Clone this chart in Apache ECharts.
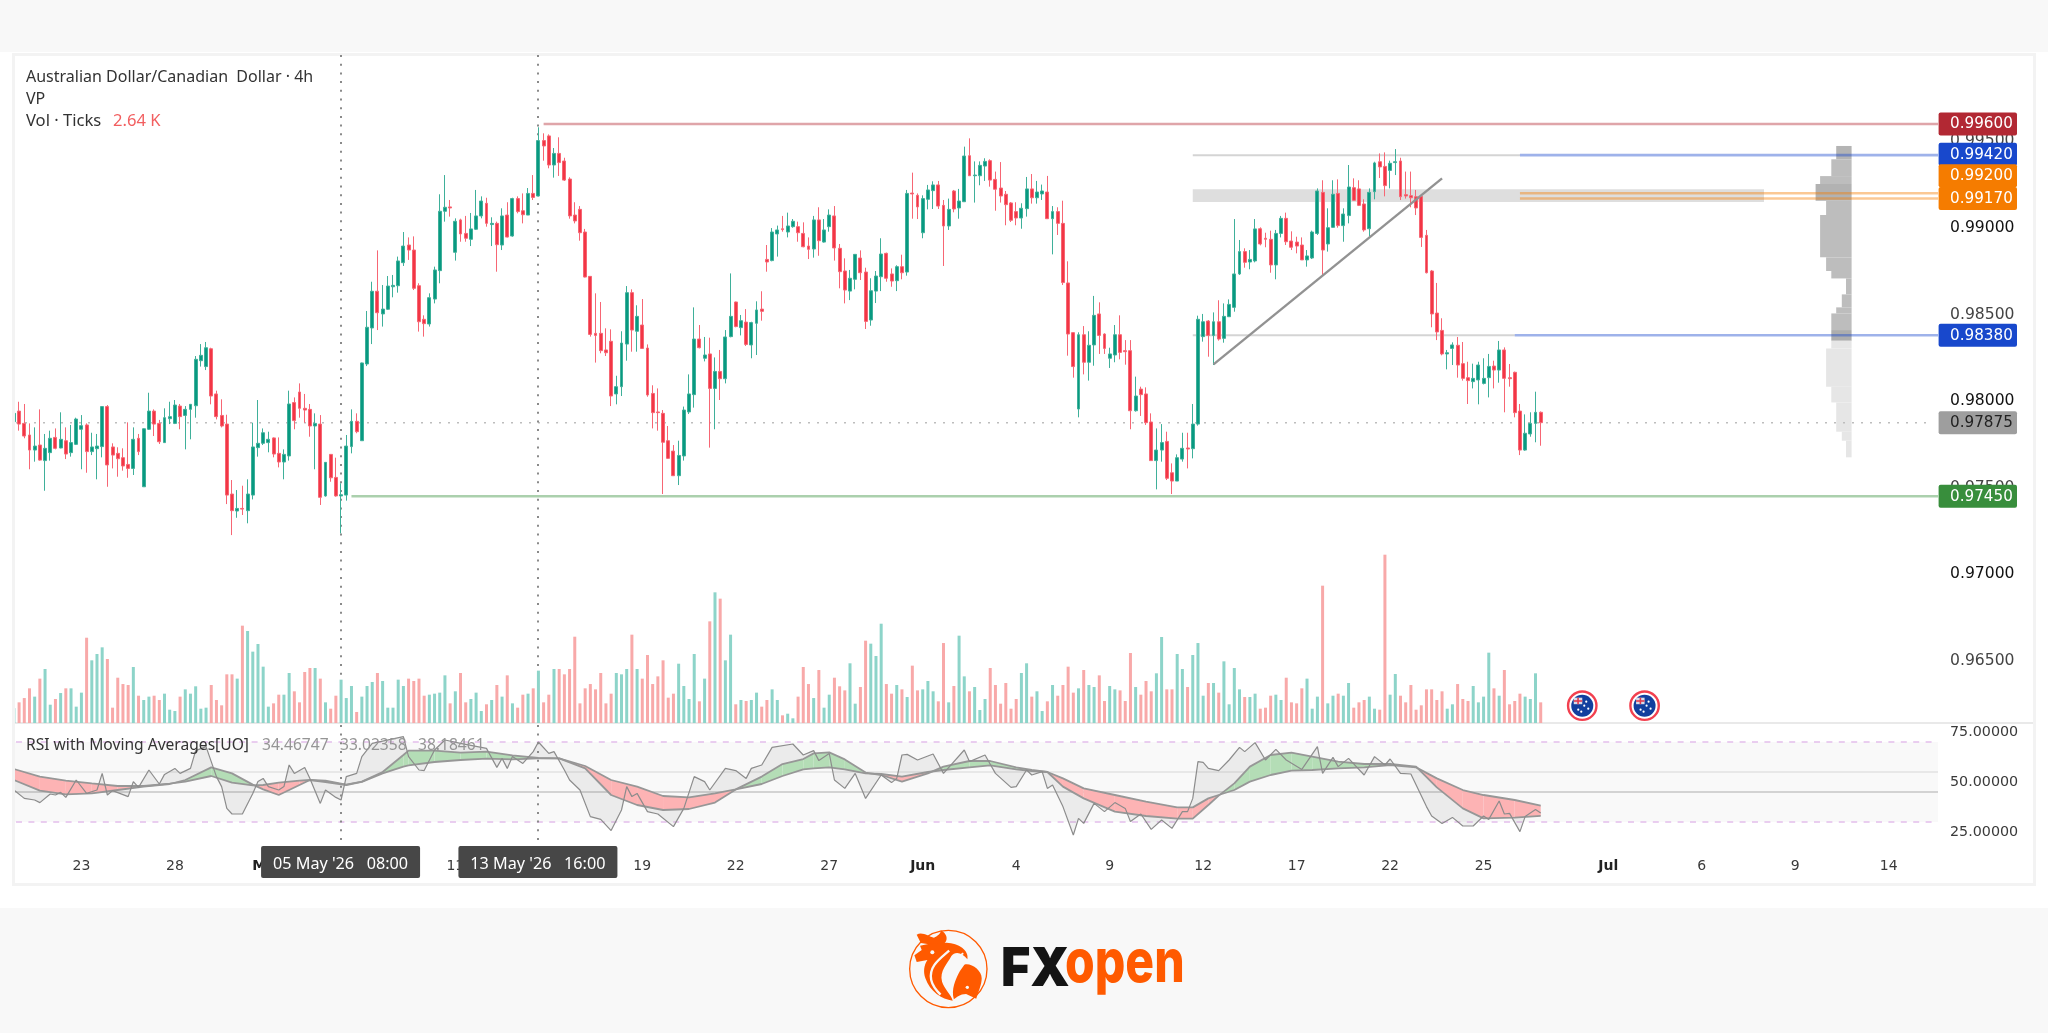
<!DOCTYPE html>
<html>
<head>
<meta charset="utf-8">
<title>AUD/CAD 4h</title>
<script src="https://cdn.jsdelivr.net/npm/echarts@6/dist/echarts.min.js"></script>
<style>
  html, body { margin: 0; padding: 0; background: #fff; width: 2048px; height: 1033px; overflow: hidden; }
  .band { position: absolute; left: 0; width: 2048px; background: #f8f8f8; }
  #panel { position: absolute; left: 12px; top: 53px; width: 2024px; height: 833px; box-sizing: border-box; border: 3px solid #f3f3f3; background: #fff; }
  #divider { position: absolute; left: 15px; top: 722px; width: 2018px; height: 2px; background: #e9e9e9; }
  #chart { position: absolute; left: 0; top: 0; width: 2048px; height: 1033px; }
  #edge { position: absolute; left: 0; top: 53px; width: 15px; height: 833px; background: #fff; box-sizing: border-box; border-right: 3px solid #f3f3f3; pointer-events: none; }
</style>
</head>
<body>
<div class="band" style="top:0;height:52px"></div>
<div class="band" style="top:908px;height:125px"></div>
<div id="panel"></div>
<div id="divider"></div>
<div id="chart"></div>
<div id="edge"></div>
<script>
// Session calendar: one leading 20:00 bar, then six 4h bars per weekday.
const tradingDays = ['21 Apr','22 Apr','23 Apr','24 Apr','27 Apr','28 Apr','29 Apr','30 Apr','1 May','4 May','5 May','6 May','7 May','8 May','11 May','12 May','13 May','14 May','15 May','18 May','19 May','20 May','21 May','22 May','25 May','26 May','27 May','28 May','29 May','1 Jun','2 Jun','3 Jun','4 Jun','5 Jun','8 Jun','9 Jun','10 Jun','11 Jun','12 Jun','15 Jun','16 Jun','17 Jun','18 Jun','19 Jun','22 Jun','23 Jun','24 Jun','25 Jun','26 Jun','29 Jun','30 Jun','1 Jul','2 Jul','3 Jul','6 Jul','7 Jul','8 Jul','9 Jul','10 Jul','13 Jul','14 Jul','15 Jul'];
const barHours = ['00:00','04:00','08:00','12:00','16:00','20:00'];
const tickDays = ['23 Apr','28 Apr','1 May','6 May','11 May','14 May','19 May','22 May','27 May','1 Jun','4 Jun','9 Jun','12 Jun','17 Jun','22 Jun','25 Jun','1 Jul','6 Jul','9 Jul','14 Jul'];
const tickLabels = ['23','28','May','6','11','14','19','22','27','Jun','4','9','12','17','22','25','Jul','6','9','14'];
const monthLabels = ['May','Jun','Jul'];

// Quotes in units of 0.00001.
const opens = [97881,97942,97871,97804,97717,97746,97656,97702,97790,97729,
97771,97702,97750,97837,97862,97708,97725,97737,97968,97735,
97698,97673,97634,97611,97785,97505,97837,97942,97871,97760,
97898,97871,97971,97917,97952,97973,98233,98199,98302,98041,
97917,97867,97463,97365,97380,97367,97457,97731,97756,97760,
97787,97698,97648,97683,97991,98052,97958,97952,97856,97867,
97452,97692,97559,97452,97457,97737,97883,97771,98214,98422,
98634,98503,98530,98660,98666,98799,98901,98872,98666,98472,
98445,98589,98753,99096,99121,98859,99046,98968,98934,98992,
99069,99142,99019,99026,98901,99074,98953,99169,99099,99074,
99199,99184,99504,99531,99363,99430,99386,99282,99074,99107,
98976,98720,98391,98391,98295,98345,98041,98083,98329,98626,
98403,98439,98306,98044,97937,97929,97771,97711,97569,97683,
97937,98037,98358,98247,98272,98073,98171,98129,98372,98572,
98424,98456,98324,98449,98531,98818,98811,98965,98995,98976,
99007,99007,98968,98895,98878,99046,98918,99007,99069,98882,
98751,98635,98703,98826,98745,98468,98635,98718,98853,98734,
98695,98776,98745,99201,99188,98972,99165,99215,99248,99130,
99011,99213,99115,99151,99417,99301,99301,99357,99388,99280,
99230,99194,99144,99094,99057,99111,99225,99174,99196,99207,
99053,99094,99026,98682,98395,97954,98383,98224,98324,98503,
98387,98247,98266,98383,98291,98291,97944,98069,98041,97879,
97656,97717,97767,97586,97538,97665,97729,97725,97867,98372,
98462,98379,98458,98362,98487,98541,98734,98863,98803,98809,
98995,98940,98934,98786,98968,99055,98924,98918,98901,98815,
98826,98968,99205,98907,99003,99199,99013,99071,99232,99225,
99138,98995,99209,99382,99355,99332,99377,99386,99192,99186,
99180,99182,98957,98751,98508,98408,98272,98304,98322,98216,
98135,98112,98122,98102,98135,98202,98179,98295,98135,98166,
97942,97717,97810,97871,97935];
const highs = [97942,97996,97983,97871,97848,97952,97810,97829,97842,97935,
97848,97862,97904,97919,97871,97817,97810,97971,97977,97756,
97733,97727,97877,97848,97810,97842,98048,97952,97891,97958,
97996,98006,97983,97971,97983,98260,98329,98341,98308,98060,
98010,97921,97544,97486,97511,97548,97875,98006,97842,97823,
97790,97790,97721,98060,98021,98102,98041,97983,97929,97919,
97648,97694,97673,97525,97804,97952,97929,98222,98520,98689,
98870,98670,98722,98728,98834,98976,98945,98951,98680,98495,
98622,98776,99194,99305,99161,99055,99053,99069,99086,99219,
99182,99174,99061,99036,99113,99148,99174,99182,99199,99230,
99305,99581,99546,99540,99461,99523,99405,99292,99148,99126,
98994,98722,98622,98572,98420,98414,98146,98403,98664,98645,
98553,98589,98327,98091,98073,97948,97856,97746,97771,97968,
98154,98541,98439,98370,98366,98252,98295,98410,98737,98574,
98497,98531,98458,98576,98634,98901,98999,99013,99069,99088,
99051,99036,99032,98945,99069,99119,99051,99107,99126,98907,
98824,98757,98849,98870,98770,98709,98751,98940,98857,98766,
98784,98845,99219,99319,99199,99188,99248,99269,99271,99161,
99169,99219,99225,99469,99517,99384,99384,99402,99396,99325,
99380,99213,99149,99148,99142,99294,99311,99271,99250,99300,
99126,99119,99157,98807,98397,98397,98433,98403,98607,98570,
98391,98308,98439,98495,98352,98352,98141,98083,98079,97929,
97842,97867,97823,97640,97692,97817,97817,97983,98493,98503,
98468,98512,98582,98564,98587,99051,98930,98882,98872,99051,
99003,98972,98984,98988,99069,99088,98980,98949,98945,98872,
98984,99228,99275,99113,99275,99280,99113,99363,99286,99275,
99165,99228,99382,99430,99436,99388,99455,99405,99325,99325,
99219,99184,98988,98757,98682,98478,98295,98339,98370,98341,
98227,98216,98227,98247,98272,98233,98347,98310,98214,98170,
97983,97923,97935,98054,97940];
const lows = [97867,97829,97785,97606,97650,97656,97482,97656,97721,97727,
97665,97679,97746,97606,97586,97688,97548,97675,97505,97611,
97563,97598,97557,97573,97688,97505,97833,97798,97752,97758,
97867,97867,97837,97721,97779,97904,98199,98179,97981,97894,
97848,97405,97226,97326,97342,97294,97432,97679,97746,97704,
97675,97617,97548,97656,97837,97904,97875,97794,97606,97400,
97448,97534,97448,97236,97425,97698,97814,97771,98202,98329,
98410,98430,98526,98599,98626,98780,98815,98641,98401,98372,
98430,98564,98680,99036,99065,98811,98920,98920,98895,98988,
99055,99007,98895,98747,98872,98945,98949,99084,99026,99074,
99161,99182,99388,99344,99290,99300,99271,99053,99026,98926,
98714,98372,98222,98276,98260,97971,97981,98029,98233,98285,
98285,98304,98025,97842,97829,97463,97667,97567,97515,97656,
97925,97962,98304,98229,97731,97837,98006,98102,98368,98426,
98379,98318,98247,98266,98464,98747,98807,98834,98978,98945,
99001,98920,98888,98820,98828,98839,98915,98978,98811,98651,
98564,98583,98645,98699,98416,98435,98566,98635,98689,98660,
98635,98703,98724,99053,99051,98940,99107,99109,99109,98780,
98988,99090,99053,99151,99301,99146,99246,99271,99238,99099,
99146,99015,99034,99015,98995,99065,99140,99140,99161,99051,
98847,98959,98670,98262,98135,97906,98154,98118,98204,98272,
98272,98191,98224,98241,98210,97837,97939,97914,97862,97656,
97490,97650,97544,97463,97538,97650,97611,97669,97858,98343,
98256,98208,98349,98337,98487,98516,98728,98770,98761,98801,
98899,98888,98741,98703,98945,98901,98872,98853,98815,98776,
98820,98959,98728,98863,99001,99001,98920,99026,99157,99126,
98978,98949,99165,99288,99182,99228,99305,99161,99169,99119,
99074,98890,98737,98426,98352,98264,98183,98208,98135,98118,
97983,98073,97981,98096,98021,98073,98106,97935,98083,97906,
97688,97713,97794,97762,97742];
const closes = [97929,97867,97798,97717,97740,97659,97727,97785,97727,97779,
97694,97760,97896,97858,97708,97735,97740,97968,97631,97688,
97667,97625,97611,97779,97708,97840,97942,97867,97765,97904,
97910,97977,97910,97952,97981,98241,98264,98308,98029,97910,
97856,97457,97367,97380,97376,97463,97735,97756,97817,97779,
97694,97648,97692,97983,97887,97958,97948,97856,97871,97444,
97646,97557,97452,97459,97740,97883,97823,98220,98426,98634,
98510,98531,98664,98668,98809,98895,98872,98651,98458,98447,
98597,98757,99096,99119,99115,99038,98965,98940,98994,99069,
99155,99026,99026,98903,99069,98947,99169,99094,99076,99199,
99176,99504,99473,99363,99430,99377,99276,99069,99040,98972,
98716,98385,98379,98291,98279,98029,98083,98335,98626,98410,
98489,98304,98035,97933,97933,97762,97669,97569,97686,97948,
98041,98358,98308,98266,98073,98171,98129,98370,98489,98430,
98464,98327,98453,98526,98518,98803,98976,98988,98990,99011,
99038,98972,98891,98876,99046,98926,98988,99074,98884,98747,
98641,98709,98847,98741,98460,98637,98722,98849,98709,98693,
98776,98741,99199,99196,99121,99169,99219,99248,99126,99011,
99107,99109,99155,99415,99301,99305,99361,99384,99276,99223,
99184,99134,99044,99057,99113,99225,99174,99207,99213,99053,
99094,99026,98684,98387,98199,98383,98224,98322,98495,98379,
98304,98272,98383,98281,98285,97944,98029,98037,97875,97656,
97717,97760,97554,97538,97673,97727,97723,97867,98472,98458,
98379,98458,98358,98489,98558,98734,98863,98801,98818,98994,
98907,98934,98786,98968,99055,98920,98888,98895,98815,98838,
98976,99213,98872,99001,99194,99013,99080,99236,99159,99130,
98988,99205,99375,99352,99244,99373,99382,99180,99184,99174,
99115,98945,98741,98503,98399,98272,98279,98324,98208,98131,
98118,98131,98208,98131,98200,98179,98295,98131,98129,97933,
97717,97814,97871,97935,97875];

// Tick volume per bar, in thousands.
const volumesK = [1.90,2.64,3.19,4.43,3.37,5.67,6.90,2.34,3.07,3.83,
4.43,4.43,2.09,3.88,10.90,8.01,8.82,9.67,8.18,1.96,
5.79,4.98,4.86,7.16,3.49,2.94,3.37,3.49,2.94,3.75,
1.70,1.53,3.37,4.30,3.75,4.69,1.83,1.96,4.86,2.94,
2.26,6.22,6.22,5.67,12.44,11.76,9.12,10.10,7.20,2.09,
2.51,3.62,3.62,6.39,4.05,2.64,6.52,7.03,7.03,5.67,
2.64,1.83,3.49,5.54,3.19,4.73,1.41,3.37,4.73,5.24,
6.39,5.37,1.96,1.96,5.54,4.73,5.67,5.37,5.67,3.49,
3.62,3.75,3.88,6.09,2.51,4.05,6.39,2.64,3.07,3.88,
1.53,2.39,2.94,4.86,3.37,6.09,2.51,1.96,3.62,3.75,
4.43,6.69,2.64,3.62,6.90,6.90,6.22,6.90,11.03,2.51,
4.43,4.98,4.30,6.39,2.51,3.75,6.39,6.22,6.90,11.29,
6.90,5.67,8.69,4.98,5.96,8.01,3.24,3.75,7.58,4.73,
3.07,8.82,2.77,5.67,12.99,16.70,15.89,8.01,11.29,2.39,
2.94,2.81,2.94,3.88,2.09,2.94,4.30,2.94,0.98,1.19,
0.60,3.37,7.16,4.98,3.19,6.77,1.96,3.62,5.79,4.69,
4.17,7.63,2.47,4.60,10.52,10.14,8.56,12.69,4.98,3.75,
4.86,4.30,3.32,7.33,4.17,4.30,5.37,4.05,2.77,10.22,
2.64,4.73,11.16,5.96,4.05,4.60,1.66,3.07,7.03,4.86,
2.47,5.11,1.83,3.07,6.39,7.63,3.37,4.05,1.53,2.77,
4.86,3.49,4.86,7.20,3.88,4.43,6.77,4.86,4.60,6.09,
2.81,4.73,4.30,4.17,2.81,8.95,4.60,3.62,5.37,4.05,
6.35,10.99,4.30,4.30,8.82,6.90,4.60,8.69,10.22,3.49,
5.11,5.11,3.88,7.88,2.39,7.03,4.30,3.32,3.32,3.75,
1.83,1.96,3.49,3.62,2.94,5.79,2.64,2.51,4.43,5.67,
1.83,3.37,17.55,2.51,3.49,3.75,3.49,5.11,1.96,2.64,
2.94,3.37,1.83,1.70,21.51,3.62,6.26,3.49,2.64,4.86,
1.70,2.26,4.30,4.30,2.94,4.05,1.83,2.39,4.98,3.07,
2.81,4.73,2.64,3.37,8.99,4.43,3.49,6.77,2.39,2.81,
3.75,3.37,3.07,6.35,2.64];

// RSI turning points and its two moving averages.
const rsiBars = [0,2,4,5,7,8,9,10,12,14,16,17,18,19,22,23,24,26,28,29,31,32,34,35,37,38,39,40,41,42,44,46,47,48,49,51,52,53,54,56,57,59,60,62,63,64,66,67,69,75,76,78,79,81,83,86,91,93,94,95,96,98,100,101,103,104,106,107,109,111,113,115,117,118,119,120,122,124,127,129,131,133,134,137,139,141,142,144,146,150,152,154,155,157,158,160,162,164,167,169,170,171,172,174,177,179,183,184,187,189,192,193,195,196,198,199,200,202,204,205,206,208,210,212,214,215,217,219,221,223,225,226,227,228,229,230,232,234,236,237,239,241,243,245,248,251,252,254,255,257,260,262,264,265,267,269,272,273,275,277,279,281,283,284,286,287,288,290,291,293,294];
const rsiValues = [46.0,41.8,41.0,39.7,44.0,43.5,44.8,42.3,51.0,44.3,46.0,54.3,43.5,45.7,42.7,50.2,47.3,56.0,49.0,53.8,56.8,54.3,56.8,65.7,67.7,60.2,52.7,47.7,36.8,34.0,34.0,44.3,50.2,51.8,47.7,46.0,47.7,58.5,54.3,57.3,51.8,39.3,46.0,42.3,41.0,52.7,54.3,62.7,69.3,72.7,62.7,56.0,55.7,66.0,71.0,69.3,66.8,57.3,61.8,56.8,62.7,59.3,65.2,70.0,64.3,65.2,56.0,51.0,46.0,32.7,31.3,25.7,36.0,47.7,42.7,44.3,35.2,34.0,27.7,36.8,52.7,50.2,46.0,56.8,55.7,51.8,56.8,58.5,67.3,69.0,63.5,65.7,60.7,64.3,51.0,46.8,54.3,41.8,53.5,49.7,51.8,63.5,63.8,61.0,64.0,54.3,66.0,60.2,63.5,54.3,47.3,47.7,56.0,53.5,55.2,46.8,48.5,37.7,23.5,31.8,29.3,39.3,35.2,39.7,36.8,30.2,34.0,26.3,31.0,26.8,35.2,35.2,41.8,60.2,59.8,56.8,55.7,61.0,67.3,65.2,69.7,61.0,66.3,61.0,56.3,67.7,54.3,62.3,57.7,61.8,53.5,62.7,58.5,61.5,54.3,54.0,37.7,33.0,29.3,32.3,28.0,28.0,33.0,31.3,40.5,34.0,34.3,25.2,32.7,36.3,34.46747];
const maBars = [0,5,10,15,20,25,30,33,38,42,46,48,51,55,57,60,64,67,71,75,76,81,86,91,96,101,105,110,115,120,125,130,135,139,144,148,152,154,157,160,164,167,171,176,179,184,188,193,196,199,202,206,212,218,224,227,230,232,235,238,242,246,250,255,260,265,270,274,279,283,289,294];
const maFast = [51.0,45.7,43.8,44.3,46.0,47.7,49.0,51.0,57.3,54.3,48.7,46.3,43.5,48.5,51.0,50.7,48.7,50.2,55.0,63.5,65.7,65.7,64.7,65.2,63.3,62.0,61.8,56.8,43.5,38.5,36.0,36.5,39.7,46.3,52.7,59.0,61.5,64.3,64.8,61.3,54.7,53.5,50.2,54.3,57.7,60.5,60.5,57.3,56.0,55.0,47.7,41.8,35.2,33.0,31.7,31.7,38.5,43.2,49.3,57.7,63.5,64.7,62.7,60.2,59.0,59.0,57.7,47.3,36.8,31.8,32.2,33.02358];
const maSlow = [56.5,52.7,50.7,49.3,48.0,48.0,49.2,50.2,53.0,49.7,48.3,48.5,49.7,50.7,51.0,50.0,48.5,50.1,54.3,57.7,58.3,60.0,61.0,61.7,61.3,61.8,61.8,58.0,51.0,47.7,43.0,42.3,44.3,46.3,49.0,53.0,56.3,56.8,57.3,56.3,54.3,54.0,52.7,55.0,56.0,57.3,58.3,56.3,55.5,55.0,51.8,46.8,43.5,40.2,37.3,37.3,41.8,43.5,46.0,50.2,53.5,55.7,56.0,56.8,57.3,58.5,57.3,51.8,46.0,43.5,41.0,38.18461];
const rsiBandLevels = [30, 70];
const rsiGuideLevels = [55, 45];

// Drawn levels on the price pane.
const levelValues = [0.996, 0.9942, 0.992, 0.9917, 0.9838, 0.9745, 0.97875];
const levelStartBars = [102, 290, 290, 290, 289, 65, 0];
const levelColors = ['#b22833', '#1848cc', '#f57c00', '#f57c00', '#1848cc', '#388e3c', '#9e9e9e'];
const levelTagShift = [0, -1, -17.5, 0, 0, 0, 0];
const guideValues = [0.9942, 0.9838];
const guideBars = [[227, 290], [227, 289]];
const zoneBars = [227, 337];
const zonePrices = [0.99223, 0.9915];
const trendBars = [231, 275];
const trendPrices = [0.98212, 0.99286];

// Visible-range volume profile.
const vpTops = [0.99473,0.99396,0.99299,0.99253,0.99157,0.99074,0.98830,0.98751,0.98708,0.98616,0.98541,0.98506,0.98410,0.98348,0.98304,0.98083,0.97992,0.97823,0.97771];
const vpBottoms = [0.99396,0.99299,0.99253,0.99157,0.99074,0.98830,0.98751,0.98708,0.98616,0.98541,0.98506,0.98410,0.98348,0.98304,0.98083,0.97992,0.97823,0.97771,0.97675];
const vpWidths = [15.4,20.3,31.5,36,25.5,31.5,25.5,20.3,5.6,9.8,15.4,20.3,20.3,20.3,25.5,20.3,15.4,9.8,5.6];
const vpColors = ['#b4b4b4','#bdbdbd','#bdbdbd','#b2b2b2','#bdbdbd','#bdbdbd','#bdbdbd','#bdbdbd','#bdbdbd','#bdbdbd','#bdbdbd','#bdbdbd','#adadad','#e6e6e6','#e6e6e6','#e6e6e6','#e6e6e6','#e6e6e6','#e6e6e6'];

// Cursor markers and economic-calendar events.
const cursorBars = [63, 101];
const cursorLabels = ["05 May '26   08:00", "13 May '26   16:00"];
const eventBars = [302, 314];

const POINT = 1e-5;
const axisFont = '"DejaVu Sans", sans-serif';
const legendFont = '"Noto Sans", sans-serif';
const UP = '#089981', DOWN = '#f23645', UP_EDGE = '#3fb09a', DOWN_EDGE = '#f76674';
const PANEL_TOP = 55, CURSOR_END = 846, CURSOR_TAG_H = 32, AXIS_RIGHT = 1938;
const VP_RIGHT = 1851.6, FLAG_Y = 705.7;

const categories = ['20 Apr 20:00'];
tradingDays.forEach(d => barHours.forEach(h => categories.push(d + ' ' + h)));
const visibleCategories = categories.slice(0, 371);
const tickMap = {};
tickDays.forEach((d, i) => { tickMap[d + ' 00:00'] = tickLabels[i]; });

const candleData = opens.map((o, i) => [o * POINT, closes[i] * POINT, lows[i] * POINT, highs[i] * POINT]);
const volumeData = volumesK.map((v, i) => ({
  value: v,
  itemStyle: { color: closes[i] >= opens[i] ? '#8dd4c9' : '#f8a9a9' }
}));

function once(fn) { return { type: 'custom', renderItem: fn, data: [[0, 0]], silent: true, animation: false }; }

const zoneSeries = Object.assign(once((p, api) => {
  const a = api.coord([zoneBars[0], zonePrices[0]]);
  const b = api.coord([zoneBars[1], zonePrices[1]]);
  const children = [{ type: 'rect', shape: { x: a[0], y: a[1], width: b[0] - a[0], height: b[1] - a[1] }, style: { fill: '#dedede' } }];
  guideValues.forEach((v, i) => {
    const s = api.coord([guideBars[i][0], v]), e = api.coord([guideBars[i][1], v]);
    children.push({ type: 'line', shape: { x1: s[0], y1: s[1], x2: e[0], y2: e[1] }, style: { stroke: '#d4d4d4', lineWidth: 2 } });
  });
  return { type: 'group', children };
}), { xAxisIndex: 0, yAxisIndex: 0, z: 1 });

const profileSeries = Object.assign(once((p, api) => ({
  type: 'group',
  children: vpTops.map((t, i) => {
    const top = api.coord([0, t])[1], bottom = api.coord([0, vpBottoms[i]])[1];
    return { type: 'rect', shape: { x: VP_RIGHT - vpWidths[i], y: top, width: vpWidths[i], height: bottom - top }, style: { fill: vpColors[i] } };
  })
})), { xAxisIndex: 0, yAxisIndex: 0, z: 1 });

const lastPriceSeries = Object.assign(once((p, api) => {
  const y = api.coord([0, closes[closes.length - 1] * POINT])[1];
  return { type: 'line', shape: { x1: 16, y1: y, x2: 1928, y2: y }, style: { stroke: '#bdbdbd', lineWidth: 1.5, lineDash: [2, 7] } };
}), { xAxisIndex: 0, yAxisIndex: 0, z: 1 });

const cursorSeries = Object.assign(once((p, api) => ({
  type: 'group',
  children: cursorBars.map(b => {
    const x = Math.round(api.coord([b, 0.98])[0]);
    return { type: 'line', shape: { x1: x, y1: PANEL_TOP, x2: x, y2: CURSOR_END }, style: { stroke: '#8a8a8a', lineWidth: 2, lineDash: [2, 6.7] } };
  })
})), { xAxisIndex: 0, yAxisIndex: 0, z: 2 });

const levelSeries = Object.assign(once((p, api) => {
  const children = [];
  levelValues.slice(0, 6).forEach((v, i) => {
    const s = api.coord([levelStartBars[i], v]);
    children.push({ type: 'line', shape: { x1: s[0], y1: s[1], x2: AXIS_RIGHT, y2: s[1] }, style: { stroke: levelColors[i], opacity: 0.42, lineWidth: 2.6 } });
  });
  const a = api.coord([trendBars[0], trendPrices[0]]), b = api.coord([trendBars[1], trendPrices[1]]);
  children.push({ type: 'line', shape: { x1: a[0], y1: a[1], x2: b[0], y2: b[1] }, style: { stroke: '#929292', lineWidth: 2.4 } });
  return { type: 'group', children };
}), { xAxisIndex: 0, yAxisIndex: 0, z: 5 });

const tagSeries = Object.assign(once((p, api) => {
  const children = [];
  levelValues.forEach((v, i) => {
    const y = api.coord([0, v])[1] + levelTagShift[i];
    const last = i === levelValues.length - 1;
    children.push({ type: 'rect', shape: { x: AXIS_RIGHT + 0.6, y: y - 11.5, width: 78.4, height: 23, r: 2 }, style: { fill: levelColors[i] } });
    children.push({ type: 'text', style: { x: 1950, y: y + 0.5, text: v.toFixed(5), fill: last ? '#222' : '#fff', font: '15.2px ' + axisFont, align: 'left', verticalAlign: 'middle' } });
  });
  cursorBars.forEach((b, i) => {
    const x = api.coord([b, 0.98])[0];
    children.push({ type: 'rect', shape: { x: x - 80, y: CURSOR_END, width: 159, height: CURSOR_TAG_H, r: 2 }, style: { fill: '#474747' } });
    children.push({ type: 'text', style: { x: x - 0.5, y: CURSOR_END + 18, text: cursorLabels[i], fill: '#fff', font: '16.2px ' + legendFont, align: 'center', verticalAlign: 'middle' } });
  });
  return { type: 'group', children };
}), { xAxisIndex: 0, yAxisIndex: 0, z: 30 });

const eventSeries = Object.assign(once((p, api) => ({
  type: 'group',
  children: eventBars.map(b => {
    const x = api.coord([b, 0.98])[0], y = FLAG_Y;
    const stars = [[4, -4], [6, 3], [-1, 6], [2, 0], [-4, 4]];
    return {
      type: 'group',
      children: [
        { type: 'circle', shape: { cx: x, cy: y, r: 14.2 }, style: { fill: '#fff', stroke: '#f2404f', lineWidth: 2.4 } },
        { type: 'circle', shape: { cx: x, cy: y, r: 11 }, style: { fill: '#123f9e' } },
        { type: 'rect', shape: { x: x - 8.5, y: y - 8, width: 8.5, height: 6.5 }, style: { fill: '#d9dbe8' } },
        { type: 'line', shape: { x1: x - 8.5, y1: y - 4.7, x2: x, y2: y - 4.7 }, style: { stroke: '#e23a4e', lineWidth: 1.6 } },
        { type: 'line', shape: { x1: x - 4.2, y1: y - 8, x2: x - 4.2, y2: y - 1.5 }, style: { stroke: '#e23a4e', lineWidth: 1.6 } }
      ].concat(stars.map(s => ({ type: 'circle', shape: { cx: x + s[0], cy: y + s[1], r: 1.1 }, style: { fill: '#fff' } })))
    };
  })
})), { xAxisIndex: 0, yAxisIndex: 0, z: 6 });

const rsiBackdrop = Object.assign(once((p, api) => {
  const top = api.coord([0, rsiBandLevels[1]])[1], bottom = api.coord([0, rsiBandLevels[0]])[1];
  const children = [{ type: 'rect', shape: { x: 15, y: top, width: AXIS_RIGHT - 15, height: bottom - top }, style: { fill: '#f9f9f9' } }];
  rsiGuideLevels.forEach((v, i) => {
    const y = api.coord([0, v])[1];
    children.push({ type: 'line', shape: { x1: 15, y1: y, x2: AXIS_RIGHT, y2: y }, style: { stroke: i ? '#c6c6c6' : '#e2e2e2', lineWidth: 1.6 } });
  });
  rsiBandLevels.forEach(v => {
    const y = api.coord([0, v])[1];
    children.push({ type: 'line', shape: { x1: 16, y1: y, x2: 1933, y2: y }, style: { stroke: '#e3bfeb', lineWidth: 1.6, lineDash: [6, 6.4] } });
  });
  return { type: 'group', children };
}), { xAxisIndex: 2, yAxisIndex: 2, z: 1 });

const rsiHaze = Object.assign(once((p, api) => {
  const pts = [];
  rsiBars.forEach((b, i) => pts.push(api.coord([b, rsiValues[i]])));
  for (let i = maBars.length - 1; i >= 0; i--) pts.push(api.coord([maBars[i], maFast[i]]));
  return { type: 'polygon', shape: { points: pts }, style: { fill: 'rgba(120,120,120,0.10)' } };
}), { xAxisIndex: 2, yAxisIndex: 2, z: 2 });

const maFillSeries = {
  type: 'custom', xAxisIndex: 2, yAxisIndex: 2, z: 3, silent: true, animation: false,
  data: maBars.slice(0, -1).map((b, i) => [b, i]),
  renderItem(p, api) {
    const i = p.dataIndex, b0 = maBars[i], b1 = maBars[i + 1];
    const d0 = maFast[i] - maSlow[i], d1 = maFast[i + 1] - maSlow[i + 1];
    const tint = d => (d >= 0 ? '#b4ddb6' : '#fdb3b4');
    const at = (b, v) => api.coord([b, v]);
    if (d0 * d1 >= 0) {
      return { type: 'polygon', shape: { points: [at(b0, maFast[i]), at(b1, maFast[i + 1]), at(b1, maSlow[i + 1]), at(b0, maSlow[i])] }, style: { fill: tint(d0 + d1) } };
    }
    const t = d0 / (d0 - d1);
    const a0 = at(b0, maFast[i]), a1 = at(b0, maSlow[i]), c0 = at(b1, maFast[i + 1]), c1 = at(b1, maSlow[i + 1]);
    const cross = [a0[0] + (c0[0] - a0[0]) * t, a0[1] + (c0[1] - a0[1]) * t];
    return {
      type: 'group',
      children: [
        { type: 'polygon', shape: { points: [a0, cross, a1] }, style: { fill: tint(d0) } },
        { type: 'polygon', shape: { points: [cross, c0, c1] }, style: { fill: tint(d1) } }
      ]
    };
  }
};

function rsiLine(bars, values, color, width, z) {
  return {
    type: 'line', xAxisIndex: 2, yAxisIndex: 2, z, silent: true, animation: false,
    data: bars.map((b, i) => [b, values[i]]), showSymbol: false, symbol: 'none',
    lineStyle: { color, width }
  };
}

// Brand mark, laid out on a 3x grid and scaled down into the footer.
const BRAND = '#ff5a00', BRAND_GAP = '#f8f8f8';
const brandSeries = Object.assign(once(() => ({
  type: 'group', x: 850, y: 900, scaleX: 1 / 3, scaleY: 1 / 3,
  children: [
    { type: 'circle', shape: { cx: 295, cy: 207, r: 116 }, style: { fill: 'none', stroke: BRAND, lineWidth: 4 } },
    { type: 'path', shape: { pathData: 'M200 103 C215 93 235 108 250 112 C262 105 270 100 270 90 C286 98 292 115 282 126 C265 136 250 130 240 131 L212 127 Z', x: 200, y: 90, width: 90, height: 45 }, style: { fill: BRAND } },
    { type: 'path', shape: { pathData: 'M210 137 L245 130 L290 128 C325 130 358 150 352 178 C338 158 315 152 304 168 C292 192 268 212 276 245 C282 265 304 285 308 302 C275 298 240 275 226 235 C219 215 222 195 232 180 L200 186 L193 166 L215 150 Z', x: 193, y: 128, width: 160, height: 174 }, style: { fill: BRAND } },
    { type: 'path', shape: { pathData: 'M314 298 C306 270 318 240 332 215 L345 196 C365 190 396 213 396 236 C396 256 385 278 380 296 L350 282 C332 282 322 292 314 298 Z', x: 308, y: 193, width: 88, height: 105 }, style: { fill: BRAND } },
    { type: 'path', shape: { pathData: 'M300 152 C270 178 238 200 246 240 C250 258 262 272 274 284', x: 240, y: 152, width: 60, height: 132 }, style: { fill: 'none', stroke: BRAND_GAP, lineWidth: 7 } },
    { type: 'path', shape: { pathData: 'M340 160 C320 172 288 196 284 224', x: 284, y: 160, width: 56, height: 64 }, style: { fill: 'none', stroke: BRAND_GAP, lineWidth: 5 } },
    { type: 'circle', shape: { cx: 247, cy: 157, r: 6 }, style: { fill: BRAND_GAP } },
    { type: 'circle', shape: { cx: 352, cy: 262, r: 5 }, style: { fill: BRAND_GAP } }
  ]
})), { xAxisIndex: 0, yAxisIndex: 0, z: 40 });

const option = {
  animation: false,
  backgroundColor: 'transparent',
  grid: [
    { left: 11.3, width: AXIS_RIGHT - 11.3, top: 54.7, height: 692.7 },
    { left: 11.3, width: AXIS_RIGHT - 11.3, top: 523, height: 200 },
    { left: 11.3, width: AXIS_RIGHT - 11.3, top: 682, height: 200 }
  ],
  xAxis: [0, 1, 2].map(g => ({
    type: 'category', gridIndex: g, data: visibleCategories, boundaryGap: true,
    axisLine: { show: false }, axisTick: { show: false }, splitLine: { show: false },
    axisLabel: g < 2 ? { show: false } : {
      show: true, inside: true, margin: 9, hideOverlap: false,
      interval: (i, v) => v in tickMap,
      formatter: v => {
        const t = tickMap[v] || '';
        return monthLabels.includes(t) ? '{m|' + t + '}' : t;
      },
      color: '#3a3a3a', fontFamily: axisFont, fontSize: 14,
      rich: { m: { fontFamily: axisFont, fontSize: 14, fontWeight: 600, color: '#222' } }
    }
  })),
  yAxis: [
    {
      type: 'value', gridIndex: 0, position: 'right', min: 0.96, max: 1, interval: 0.005,
      axisLine: { show: false }, axisTick: { show: false }, splitLine: { show: false },
      axisLabel: {
        margin: 12, fontFamily: axisFont, fontSize: 15.6, padding: [5, 0, 0, 0],
        color: v => (Math.round(Number(v) * 200) % 2 === 0 ? '#111' : '#444'),
        formatter: v => (v > 0.961 && v < 0.999 ? v.toFixed(5) : '')
      }
    },
    {
      type: 'value', gridIndex: 1, min: 0, max: 25.56, show: false,
      axisLine: { show: false }, axisTick: { show: false }, splitLine: { show: false }
    },
    {
      type: 'value', gridIndex: 2, position: 'right', min: 0, max: 100, interval: 25,
      axisLine: { show: false }, axisTick: { show: false }, splitLine: { show: false },
      axisLabel: {
        margin: 12, color: '#3a3a3a', fontFamily: axisFont, fontSize: 14.3,
        formatter: v => (v > 0 && v < 100 ? v.toFixed(5) : '')
      }
    }
  ],
  series: [
    rsiBackdrop,
    rsiHaze,
    maFillSeries,
    rsiLine(maBars, maSlow, '#979797', 1.8, 4),
    rsiLine(maBars, maFast, '#979797', 1.8, 4),
    rsiLine(rsiBars, rsiValues, '#8c8c8c', 1.2, 5),
    zoneSeries,
    profileSeries,
    lastPriceSeries,
    {
      type: 'bar', xAxisIndex: 1, yAxisIndex: 1, data: volumeData, barWidth: 3, z: 2,
      silent: true, animation: false
    },
    cursorSeries,
    {
      type: 'candlestick', xAxisIndex: 0, yAxisIndex: 0, data: candleData, barWidth: 3.4, z: 3,
      silent: true, animation: false, clip: false,
      itemStyle: { color: UP, color0: DOWN, borderColor: UP_EDGE, borderColor0: DOWN_EDGE, borderWidth: 1 }
    },
    levelSeries,
    eventSeries,
    tagSeries,
    brandSeries
  ],
  graphic: [
    { type: 'text', x: 26, y: 77, z: 20, style: { text: 'Australian Dollar/Canadian  Dollar · 4h', fill: '#333', font: '16px ' + legendFont, verticalAlign: 'middle' } },
    { type: 'text', x: 26, y: 99, z: 20, style: { text: 'VP', fill: '#333', font: '16px ' + legendFont, verticalAlign: 'middle' } },
    { type: 'text', x: 26, y: 121, z: 20, style: { text: 'Vol · Ticks', fill: '#333', font: '16.6px ' + legendFont, verticalAlign: 'middle' } },
    { type: 'text', x: 113, y: 121, z: 20, style: { text: '2.64 K', fill: '#f25f60', font: '16.6px ' + legendFont, verticalAlign: 'middle' } },
    { type: 'text', x: 26, y: 745.5, z: 20, style: { text: 'RSI with Moving Averages[UO]', fill: '#333', font: '15.6px ' + legendFont, verticalAlign: 'middle' } },
    { type: 'text', x: 262, y: 745.5, z: 20, style: { text: '34.46747', fill: '#959595', font: '15.6px ' + legendFont, verticalAlign: 'middle' } },
    { type: 'text', x: 340, y: 745.5, z: 20, style: { text: '33.02358', fill: '#959595', font: '15.6px ' + legendFont, verticalAlign: 'middle' } },
    { type: 'text', x: 418, y: 745.5, z: 20, style: { text: '38.18461', fill: '#959595', font: '15.6px ' + legendFont, verticalAlign: 'middle' } },
    { type: 'text', x: 1001, y: 969.5, z: 40, scaleX: 0.93, style: { text: 'FX', fill: '#141414', font: '900 54px Inter, sans-serif', verticalAlign: 'middle' } },
    { type: 'text', x: 1065, y: 964, z: 40, scaleX: 0.8, style: { text: 'open', fill: '#ff5a00', font: '800 60px Inter, sans-serif', verticalAlign: 'middle' } }
  ]
};

echarts.init(document.getElementById('chart')).setOption(option);
</script>
</body>
</html>
